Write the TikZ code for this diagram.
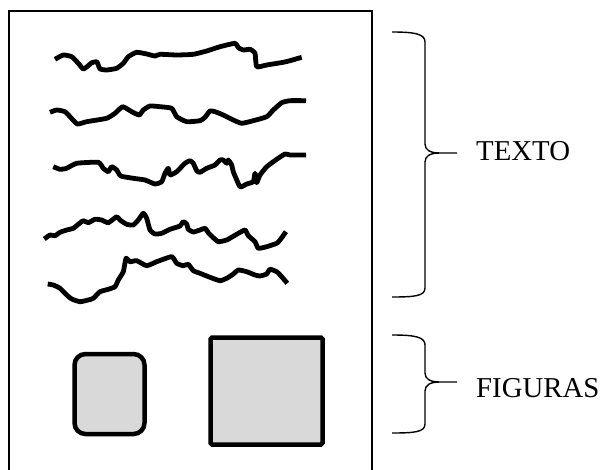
\documentclass[tikz,border=0pt]{standalone}
\usepackage{fontspec}
\setmainfont{Liberation Serif}
\begin{document}
\begin{tikzpicture}[x=1pt,y=-1pt,
  wavy/.style={line width=4.8pt,line join=round},
  brace/.style={line width=1.4pt},
  figbox/.style={draw,fill=black!15,line width=4.5pt},
  label/.style={anchor=west,inner sep=0pt,font=\fontsize{28.8}{34}\selectfont}]
\useasboundingbox (0,0) rectangle (601,470);
% page
\draw[line width=2pt] (9,475) -- (9,11) -- (372,11) -- (372,475);
% text lines
\draw[wavy] plot[smooth,tension=0.3] coordinates {(55,59.3)(63.3,55)(71.7,56.7)(78.3,63.3)(83.3,69)(88.3,65.7)(91.7,62.7)(96.7,61.7)(98.3,65)(100,69)(106.7,70)(116.7,68.3)(123.3,63.3)(128.3,56.7)(136.7,52.3)(146.7,54)(155,56)(160,54.3)(176.7,55)(193.3,54.3)(206.7,51)(220,46.7)(235,43.3)(238.3,47.7)(243.3,50)(250,49.3)(255,53.3)(256.7,66.7)(266.7,65)(283.3,62.3)(290,60.7)(301.7,57.3)};
\draw[wavy] plot[smooth,tension=0.3] coordinates {(50,112.3)(56.7,110)(65,111.7)(70,116.7)(77.3,124)(86.7,121.7)(106.7,118.3)(115,113.3)(122.7,106.7)(131.7,111.7)(139.3,115)(143.3,110)(150,106)(160,106.7)(171.7,108.3)(176.7,116.7)(186.7,121.7)(200,120.7)(205,117.3)(210,111)(215,111.7)(223.3,115)(233.3,120)(241.7,123.3)(253.3,120.7)(266.7,116.7)(273.3,110)(281.7,102.7)(290,100.7)(306,100.7)};
\draw[wavy] plot[smooth,tension=0.3] coordinates {(53.3,166.7)(60,169.3)(66.7,168.3)(76.7,163.3)(98.3,162.3)(103.3,168.3)(108.3,171.7)(111.7,166.7)(116.7,170)(120.7,176)(133.3,178.3)(145,180)(155,184)(161.7,181.7)(165,173.3)(168.3,168.3)(170,175)(176.7,171.7)(185,163.3)(190,160.7)(193.3,163.3)(196.7,170.7)(200,172.3)(206.7,168.3)(215,165)(220,160)(223.3,160)(226.7,163.3)(228.3,160)(231.7,165)(233.3,171.7)(240,186.7)(246.7,184)(253.3,181.7)(255,173.3)(256.7,182.7)(260,175)(266.7,166.7)(276.7,159.3)(285,154)(290,155)(306,155)};
\draw[wavy] plot[smooth,tension=0.3] coordinates {(44.3,239)(50,235)(55,235.7)(60,232.3)(66.7,230)(73.3,228.3)(78.3,224.3)(83.3,220.7)(88.3,222.7)(95,219.3)(101.7,220)(108.3,222.7)(116.7,216.7)(120,220)(126.7,224.3)(133.3,225)(138.3,220)(143.3,213.3)(146.7,218.3)(150,230)(155,234)(161.7,233.3)(170,229.3)(180,226)(183.3,221.7)(186.7,224)(188.3,229.3)(193.3,232)(200,230)(205,228.3)(208.3,232.7)(213.3,237.7)(218.3,241.7)(226.7,240)(236.7,234.3)(245,230)(248.3,235.7)(255,241.7)(258.3,248.3)(266.7,246.7)(276.7,243.3)(280,240)(286,231.7)};
\draw[wavy] plot[smooth,tension=0.3] coordinates {(47.7,284)(53.3,285)(60,288.3)(66.7,295)(71.7,299)(80,301.7)(88.3,300)(93.3,298.3)(100,291.7)(108.3,289.3)(115,286.7)(118.3,280)(123.3,271.7)(126,258.3)(130,261.7)(136.7,260.7)(146.7,265.7)(156.7,261.7)(171.7,256.7)(176.7,263.3)(183.3,265.7)(188.3,264.3)(193.3,270.7)(200,273.3)(210,277.3)(220,280.7)(226.7,278.3)(233.3,274)(238.3,270)(246.7,271.7)(255,275)(260,276)(266.7,274)(270,269.3)(276.7,271.7)(281.7,276.7)(287.3,283.3)};
% figures
\node[figbox,rounded corners=11pt,minimum width=70pt,minimum height=80pt,inner sep=0pt] (fig1) at (109.5,394) {};
\node[figbox,rounded corners=1.5pt,minimum width=112pt,minimum height=107pt,inner sep=0pt] (fig2) at (266.5,391) {};
% braces
\draw[brace] (392,32) .. controls (415,32) and (425,34) .. (425,42) -- (425,144) .. controls (425,150) and (430,153) .. (440,153) -- (457,153)
  (440,153) .. controls (430,153) and (425,156) .. (425,162) -- (425,288) .. controls (425,296) and (415,297) .. (392,297);
\draw[brace] (392,335) .. controls (415,335) and (425,337) .. (425,345) -- (425,373) .. controls (425,379) and (430,382) .. (440,382) -- (457,382)
  (440,382) .. controls (430,382) and (425,385) .. (425,391) -- (425,424) .. controls (425,432) and (415,433) .. (392,433);
\node[label] (texto) at (476,151) {TEXTO};
\node[label] (figuras) at (476,388) {FIGURAS};
\end{tikzpicture}
\end{document}
